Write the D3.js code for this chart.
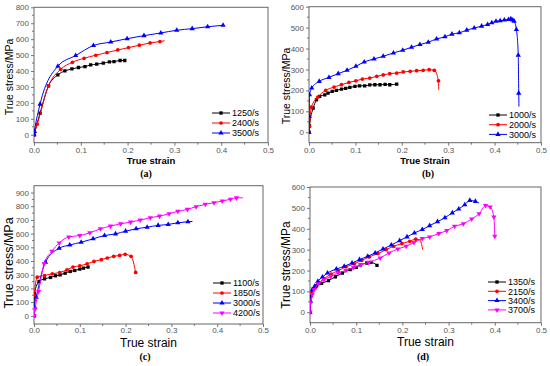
<!DOCTYPE html>
<html>
<head>
<meta charset="utf-8">
<script src="https://cdn.jsdelivr.net/npm/d3@7"></script>
<style>
  body { margin: 0; background: #fff; }
  svg { display: block; font-family: "Liberation Sans", Arial, sans-serif; }
</style>
</head>
<body>
<script>
// canvas
var w = 550;
var h = 366;

// shared x ticks
var strainTicks = [0, 0.1, 0.2, 0.3, 0.4, 0.5];

// y ticks per panel
var stressTicksA = [0, 100, 200, 300, 400, 500, 600, 700, 800];
var stressTicksB = [0, 100, 200, 300, 400, 500, 600];
var stressTicksC = [0, 100, 200, 300, 400, 500, 600, 700, 800, 900];
var stressTicksD = [0, 100, 200, 300, 400, 500, 600];

// legend labels
var ratesA = ["1250/s", "2400/s", "3500/s"];
var ratesB = ["1000/s", "2000/s", "3000/s"];
var ratesC = ["1100/s", "1850/s", "3000/s", "4200/s"];
var ratesD = ["1350/s", "2150/s", "3400/s", "3700/s"];

// (a) data [strain, stress]
var a1250 = [[0, 0], [0.013, 136], [0.031, 307], [0.051, 376], [0.066, 401], [0.081, 413], [0.095, 422],
  [0.109, 428], [0.121, 438], [0.134, 443], [0.148, 449], [0.161, 457], [0.171, 459], [0.184, 466], [0.194, 466]];
var a2400 = [[0, 0], [0.007, 67], [0.031, 307], [0.057, 411], [0.082, 455], [0.107, 480], [0.132, 499],
  [0.156, 516], [0.179, 532], [0.202, 547], [0.225, 562], [0.248, 576], [0.269, 585]];
var a2400Tail = [[0.279, 590]];
var a3500 = [[0, 0], [0.001, 21], [0.013, 192], [0.051, 430], [0.089, 497], [0.127, 560], [0.164, 582],
  [0.199, 603], [0.235, 622], [0.271, 639], [0.305, 656], [0.338, 666], [0.371, 678], [0.404, 687]];

// (b)
var b1000 = [[0, 0], [0.001, 30], [0.009, 115], [0.016, 155], [0.023, 171], [0.034, 179], [0.041, 187],
  [0.05, 195], [0.059, 200], [0.07, 206], [0.079, 210], [0.088, 214], [0.099, 219], [0.109, 222], [0.12, 222],
  [0.131, 226], [0.142, 227], [0.153, 227], [0.164, 229], [0.174, 227], [0.189, 230]];
var b2000 = [[0.001, 27], [0.005, 120], [0.019, 168], [0.036, 200], [0.054, 216], [0.07, 227], [0.086, 238],
  [0.101, 246], [0.115, 254], [0.131, 259], [0.146, 267], [0.16, 274], [0.174, 280], [0.189, 283], [0.203, 288],
  [0.218, 291], [0.232, 294], [0.246, 296], [0.259, 299], [0.27, 296], [0.279, 246]];
var b2000Tail = [[0.2795, 203]];
var b3000 = [[0, 0], [0.0005, 75], [0.001, 179], [0.006, 211], [0.022, 243], [0.043, 262], [0.063, 280],
  [0.082, 296], [0.101, 315], [0.119, 336], [0.14, 350], [0.16, 363], [0.182, 379], [0.202, 392], [0.221, 406],
  [0.239, 419], [0.257, 430], [0.275, 446], [0.293, 456], [0.308, 469], [0.324, 475], [0.34, 488], [0.356, 498],
  [0.372, 507], [0.385, 515], [0.394, 523], [0.403, 530], [0.412, 533], [0.421, 536], [0.43, 539], [0.435, 542],
  [0.439, 536], [0.442, 531], [0.447, 491], [0.451, 368], [0.452, 187]];
var b3000Tail = [[0.4525, 123]];

// (c)
var c1100 = [[0, 0], [0.001, 164], [0.011, 250], [0.023, 270], [0.036, 280], [0.047, 292], [0.057, 299],
  [0.068, 311], [0.079, 324], [0.089, 331], [0.1, 341], [0.108, 348], [0.118, 356]];
var c1850 = [[0, 145], [0.007, 282], [0.023, 294], [0.04, 307], [0.056, 316], [0.072, 336], [0.085, 356],
  [0.1, 365], [0.116, 380], [0.131, 397], [0.147, 410], [0.16, 422], [0.174, 434], [0.187, 441], [0.199, 449],
  [0.212, 434], [0.222, 317]];
var c3000 = [[0, 0], [0.001, 66], [0.005, 135], [0.025, 392], [0.055, 493], [0.078, 517], [0.103, 537],
  [0.129, 562], [0.154, 586], [0.178, 598], [0.2, 618], [0.223, 635], [0.247, 647], [0.271, 660], [0.293, 667],
  [0.314, 679], [0.336, 687]];
var c3000Tail = [[0.346, 689]];
var c4200 = [[0, 0], [0.002, 47], [0.01, 177], [0.022, 380], [0.039, 471], [0.055, 532], [0.076, 576],
  [0.1, 586], [0.122, 606], [0.145, 635], [0.167, 655], [0.189, 672], [0.211, 684], [0.232, 699], [0.254, 716],
  [0.274, 728], [0.295, 745], [0.314, 763], [0.335, 777], [0.354, 797], [0.374, 814], [0.393, 826], [0.411, 838],
  [0.429, 851], [0.442, 861]];
var c4200Tail = [[0.456, 861]];

// (d)
var d1350 = [[0, 0], [0.002, 77], [0.007, 112], [0.014, 126], [0.025, 138], [0.04, 152], [0.055, 170],
  [0.07, 188], [0.087, 204], [0.1, 215], [0.109, 227], [0.123, 236], [0.132, 239], [0.145, 225]];
var d2150 = [[0, 0], [0.004, 93], [0.011, 116], [0.02, 142], [0.03, 160], [0.046, 183], [0.061, 199],
  [0.078, 218], [0.096, 232], [0.112, 249], [0.128, 265], [0.147, 281], [0.165, 300], [0.181, 316],
  [0.199, 329], [0.216, 340], [0.229, 350]];
var d2150Tail = [[0.238, 346], [0.244, 300]];
var d3400 = [[0, 0], [0.001, 53], [0.005, 108], [0.01, 124], [0.017, 148], [0.027, 169], [0.038, 188],
  [0.057, 207], [0.074, 220], [0.091, 236], [0.107, 252], [0.125, 268], [0.141, 284], [0.158, 303],
  [0.176, 322], [0.194, 343], [0.21, 361], [0.226, 380], [0.243, 396], [0.259, 415], [0.276, 434],
  [0.292, 453], [0.308, 476], [0.322, 495], [0.335, 515], [0.346, 536], [0.358, 531]];
var d3400Tail = [[0.366, 523]];
var d3700 = [[0, 0], [0.001, 45], [0.005, 85], [0.009, 108], [0.018, 137], [0.03, 156], [0.045, 172],
  [0.061, 188], [0.078, 201], [0.094, 215], [0.11, 227], [0.127, 239], [0.152, 260], [0.171, 284],
  [0.19, 303], [0.208, 316], [0.225, 334], [0.243, 353], [0.259, 361], [0.279, 377], [0.296, 391],
  [0.313, 412], [0.332, 424], [0.35, 447], [0.366, 472], [0.38, 511], [0.39, 504], [0.398, 456], [0.4, 364]];

var colors = ["#000000", "#ff0000", "#0000ff", "#ff00ff"];
var shapes = ["square", "circle", "up", "down"];

var svg = d3.select("body")
    .append("svg")
    .attr("width", w)
    .attr("height", h);

function markerPath(shape) {
    if (shape == "square") return d3.symbol().type(d3.symbolSquare).size(11)();
    if (shape == "circle") return d3.symbol().type(d3.symbolCircle).size(11)();
    return d3.symbol().type(d3.symbolTriangle).size(12)();
}

function drawMarker(g, shape, color, x, y) {
    g.append("path")
        .attr("d", markerPath(shape))
        .attr("transform", "translate(" + x + "," + y + ")" + (shape == "down" ? " rotate(180)" : ""))
        .attr("fill", color);
}

function drawPanel(p) {
    var x = d3.scaleLinear().domain([0, 0.5]).range([p.left, p.right]);
    var y = d3.scaleLinear().domain(p.yDomain).range([p.bottom, p.top]);
    var g = svg.append("g");

    // clip so nothing leaks past the frame
    var clipId = "clip" + p.id;
    g.append("clipPath").attr("id", clipId)
        .append("rect")
        .attr("x", p.left).attr("y", p.top)
        .attr("width", p.right - p.left).attr("height", p.bottom - p.top);

    // axes
    var xAxis = d3.axisBottom(x).tickValues(strainTicks).tickFormat(d3.format(".1f"))
        .tickSize(3).tickPadding(p.xPad);
    var yAxis = d3.axisLeft(y).tickValues(p.yTicks).tickFormat(d3.format("d"))
        .tickSize(3).tickPadding(2);
    var gx = g.append("g").attr("transform", "translate(0," + p.bottom + ")").call(xAxis);
    var gy = g.append("g").attr("transform", "translate(" + p.left + ",0)").call(yAxis);
    [gx, gy].forEach(function(a) {
        a.select(".domain").remove();
        a.selectAll("line").attr("stroke", "#777");
        a.selectAll("text").attr("fill", "#555").style("font-size", "8px");
    });

    // minor ticks
    var xMinor = strainTicks.slice(1).map(function(d) { return d - 0.05; });
    g.selectAll(".xm").data(xMinor).enter().append("line")
        .attr("x1", function(d) { return x(d); }).attr("x2", function(d) { return x(d); })
        .attr("y1", p.bottom).attr("y2", p.bottom + 2)
        .attr("stroke", "#777");
    var yMinor = p.yTicks.slice(1).map(function(d) { return d - 50; });
    g.selectAll(".ym").data(yMinor).enter().append("line")
        .attr("y1", function(d) { return y(d); }).attr("y2", function(d) { return y(d); })
        .attr("x1", p.left).attr("x2", p.left - 2)
        .attr("stroke", "#777");

    // frame
    g.append("rect")
        .attr("x", p.left).attr("y", p.top)
        .attr("width", p.right - p.left).attr("height", p.bottom - p.top)
        .attr("fill", "none").attr("stroke", "#666").attr("stroke-width", 1);

    // curves
    var line = d3.line()
        .x(function(d) { return x(d[0]); })
        .y(function(d) { return y(d[1]); })
        .curve(d3.curveMonotoneX);
    var plot = g.append("g").attr("clip-path", "url(#" + clipId + ")");
    p.series.forEach(function(s, i) {
        var pts = s.data.concat(s.tail || []);
        plot.append("path")
            .attr("d", line(pts))
            .attr("fill", "none")
            .attr("stroke", colors[i])
            .attr("stroke-width", 1);
        s.data.forEach(function(d) {
            drawMarker(plot, shapes[i], colors[i], x(d[0]), y(d[1]));
        });
    });

    // legend
    p.labels.forEach(function(lab, i) {
        var ly = p.legY + i * p.legStep;
        g.append("line")
            .attr("x1", p.legX).attr("x2", p.legX + 18)
            .attr("y1", ly).attr("y2", ly)
            .attr("stroke", colors[i]).attr("stroke-width", 1);
        drawMarker(g, shapes[i], colors[i], p.legX + 9, ly);
        g.append("text")
            .attr("x", p.legX + 20).attr("y", ly + 3.2)
            .style("font-size", "9px")
            .attr("fill", "#000")
            .text(lab);
    });

    // axis titles
    g.append("text")
        .attr("x", (p.left + p.right) / 2).attr("y", p.xTitleY)
        .attr("text-anchor", "middle")
        .style("font-size", p.xTitleSize + "px")
        .style("font-weight", p.xTitleBold ? "bold" : "normal")
        .text(p.xTitle);
    g.append("text")
        .attr("transform", "translate(" + p.yTitleX + "," + p.yTitleY + ") rotate(-90)")
        .attr("text-anchor", "middle")
        .style("font-size", p.yTitleSize + "px")
        .text("True stress/MPa");

    // panel tag
    g.append("text")
        .attr("x", p.tagX).attr("y", p.tagY)
        .attr("text-anchor", "middle")
        .style("font-family", "'Liberation Serif', 'Times New Roman', serif")
        .style("font-size", "10px")
        .style("font-weight", "bold")
        .text(p.tag);
}

drawPanel({
    id: "a", left: 34, right: 268, top: 7.3, bottom: 142.7, yDomain: [-50, 800], yTicks: stressTicksA,
    series: [{ data: a1250 }, { data: a2400, tail: a2400Tail }, { data: a3500 }],
    labels: ratesA, legX: 212, legY: 113, legStep: 10, xPad: 1.5,
    xTitle: "True strain", xTitleBold: true, xTitleSize: 9.5, xTitleY: 164,
    yTitleX: 13, yTitleY: 77, yTitleSize: 10.5,
    tag: "(a)", tagX: 146, tagY: 177
});

drawPanel({
    id: "b", left: 309, right: 541, top: 6.7, bottom: 142.7, yDomain: [-50, 600], yTicks: stressTicksB,
    series: [{ data: b1000 }, { data: b2000, tail: b2000Tail }, { data: b3000, tail: b3000Tail }],
    labels: ratesB, legX: 489, legY: 115, legStep: 9.7, xPad: 1.5,
    xTitle: "True Strain", xTitleBold: true, xTitleSize: 9.5, xTitleY: 164,
    yTitleX: 290, yTitleY: 86, yTitleSize: 10.5,
    tag: "(b)", tagX: 428, tagY: 177
});

drawPanel({
    id: "c", left: 34, right: 263, top: 185.7, bottom: 324, yDomain: [-60, 950], yTicks: stressTicksC,
    series: [{ data: c1100 }, { data: c1850 }, { data: c3000, tail: c3000Tail }, { data: c4200, tail: c4200Tail }],
    labels: ratesC, legX: 213, legY: 283, legStep: 10, xPad: 0,
    xTitle: "True strain", xTitleBold: false, xTitleSize: 12, xTitleY: 347,
    yTitleX: 13, yTitleY: 263, yTitleSize: 12.5,
    tag: "(c)", tagX: 145, tagY: 360
});

drawPanel({
    id: "d", left: 310, right: 541, top: 187, bottom: 322.7, yDomain: [-50, 600], yTicks: stressTicksD,
    series: [{ data: d1350 }, { data: d2150, tail: d2150Tail }, { data: d3400, tail: d3400Tail }, { data: d3700 }],
    labels: ratesD, legX: 488, legY: 282, legStep: 9.3, xPad: 1.5,
    xTitle: "True strain", xTitleBold: false, xTitleSize: 12, xTitleY: 346,
    yTitleX: 290, yTitleY: 265, yTitleSize: 12,
    tag: "(d)", tagX: 423, tagY: 360
});
</script>
</body>
</html>
